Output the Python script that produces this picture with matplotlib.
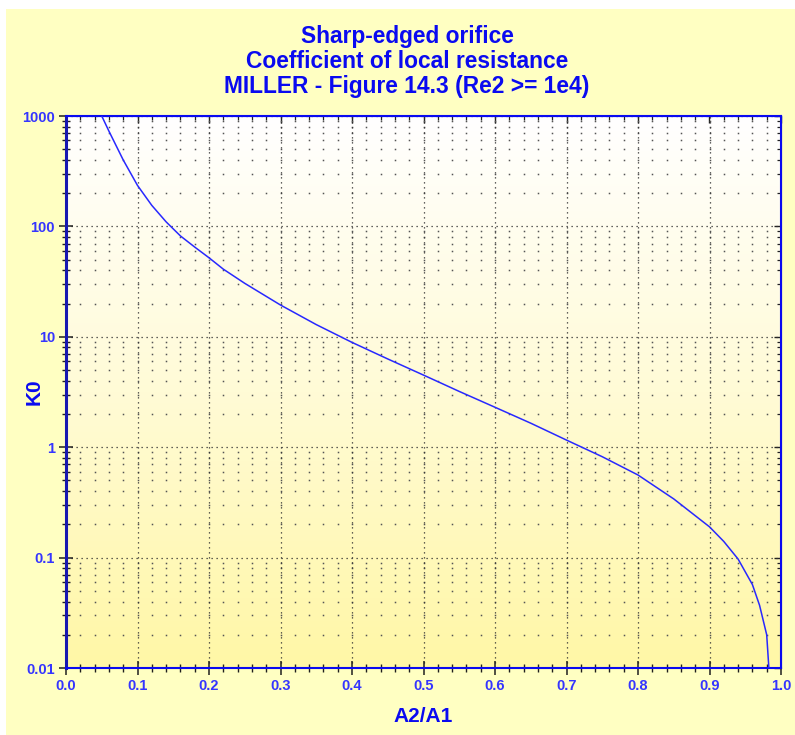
import matplotlib.pyplot as plt
import numpy as np
from matplotlib.patches import Rectangle
from matplotlib.colors import LinearSegmentedColormap
from matplotlib.ticker import MultipleLocator, LogLocator, NullFormatter, FuncFormatter

# data (Re2 >= 1e4)
ratio = [0.05, 0.06, 0.08, 0.10, 0.12, 0.14, 0.16, 0.18, 0.20, 0.22, 0.25,
         0.30, 0.35, 0.40, 0.45, 0.50, 0.55, 0.60, 0.65, 0.70, 0.75, 0.80,
         0.85, 0.90, 0.92, 0.94, 0.96, 0.97, 0.98, 0.984]
k0 = [1000, 730, 400, 235, 155, 110, 82, 65, 52, 41, 30.5,
      19.4, 12.9, 8.9, 6.3, 4.5, 3.2, 2.3, 1.65, 1.16, 0.82, 0.56,
      0.34, 0.19, 0.14, 0.097, 0.057, 0.037, 0.02, 0.008]

title_lines = ['Sharp-edged orifice',
               'Coefficient of local resistance',
               'MILLER - Figure 14.3 (Re2 >= 1e4)']

W, H = 795, 735
blue = '#0A0AF0'
label_blue = '#3535FF'
font = 'Liberation Sans'

fig = plt.figure(figsize=(W / 100, H / 100), dpi=100)
fig.patch.set_facecolor('white')
fig.add_artist(Rectangle((6 / W, 0), 1, 1 - 9 / H, transform=fig.transFigure,
                         facecolor='#FFFFC2', edgecolor='none', zorder=-10))

ax = fig.add_axes([66 / W, (H - 668) / H, 715 / W, 552 / H])
ax.set_facecolor('none')

# background gradient (white at top, yellow at bottom)
cmap = LinearSegmentedColormap.from_list('bg', ['#FFF7A6', '#FFFBD6', '#FFFFFF'])
grad = np.linspace(0, 1, 256).reshape(-1, 1)
ax.imshow(grad, extent=[0, 1, 0, 1], transform=ax.transAxes, aspect='auto',
          cmap=cmap, origin='lower', zorder=0)

ax.set_yscale('log')
ax.set_xlim(0, 1)
ax.set_ylim(0.01, 1000)

ax.xaxis.set_major_locator(MultipleLocator(0.1))
ax.xaxis.set_minor_locator(MultipleLocator(0.02))
ax.yaxis.set_major_locator(LogLocator(base=10))
ax.yaxis.set_minor_locator(LogLocator(base=10, subs=np.arange(2, 10)))
ax.yaxis.set_minor_formatter(NullFormatter())
ax.xaxis.set_major_formatter(FuncFormatter(lambda v, p: '%.1f' % v))
ax.yaxis.set_major_formatter(FuncFormatter(lambda v, p: '%g' % v))

# grid: dotted major lines, dots at minor intersections
ax.grid(which='major', color='#303030', linestyle=(0, (1, 3)), linewidth=0.9, zorder=1)
xm = np.arange(0.02, 1.0, 0.02)
ym = np.array([s * 10.0 ** e for e in range(-2, 3) for s in range(2, 10)])
gx, gy = np.meshgrid(xm, ym)
ax.plot(gx.ravel(), gy.ravel(), linestyle='none', marker='s', markersize=1.1,
        markeredgewidth=0, color='#555555', zorder=1)

ax.plot(ratio, k0, color='#2828FF', linewidth=1.1, zorder=3, clip_on=True)

ax.tick_params(which='major', direction='inout', length=10, width=1.1,
               color='#202020', labelcolor=label_blue, labelsize=10.5, pad=3)
ax.tick_params(which='minor', direction='inout', length=5.5, width=1.0,
               color='#202020')
for lab in ax.get_xticklabels() + ax.get_yticklabels():
    lab.set_fontname(font)
    lab.set_fontweight('bold')

# inward ticks on top and right
secx = ax.secondary_xaxis('top')
secx.xaxis.set_major_locator(MultipleLocator(0.1))
secx.xaxis.set_minor_locator(MultipleLocator(0.02))
secx.tick_params(which='major', direction='in', length=5, width=1.0, color='#202020', labeltop=False)
secx.tick_params(which='minor', direction='in', length=3, width=0.9, color='#202020')
secx.spines['top'].set_color(blue)
secy = ax.secondary_yaxis('right')
secy.yaxis.set_major_locator(LogLocator(base=10))
secy.yaxis.set_minor_locator(LogLocator(base=10, subs=np.arange(2, 10)))
secy.tick_params(which='major', direction='in', length=5, width=1.0, color='#202020', labelright=False)
secy.tick_params(which='minor', direction='in', length=3, width=0.9, color='#202020')
secy.yaxis.set_minor_formatter(NullFormatter())
secy.spines['right'].set_color(blue)

ax.spines['left'].set_color('#1818B0')
ax.spines['left'].set_linewidth(2.2)
ax.spines['bottom'].set_color(blue)
ax.spines['bottom'].set_linewidth(1.5)
ax.spines['top'].set_color(blue)
ax.spines['top'].set_linewidth(1.5)
ax.spines['right'].set_color(blue)
ax.spines['right'].set_linewidth(1.5)

# axis titles
fig.text(423 / W, 1 - 716 / H, 'A2/A1', ha='center', va='center',
         fontname=font, fontweight='bold', fontsize=15, color=blue)
fig.text(34 / W, 1 - 392 / H, 'K0', ha='center', va='center', rotation=90,
         fontname=font, fontweight='bold', fontsize=15, color=blue)

for i, line in enumerate(title_lines):
    fig.text(407 / W, 1 - (36 + 25 * i) / H, line, ha='center', va='center',
             fontname=font, fontweight='bold', fontsize=16.4, color=blue)

fig.savefig('out.png', dpi=100)
